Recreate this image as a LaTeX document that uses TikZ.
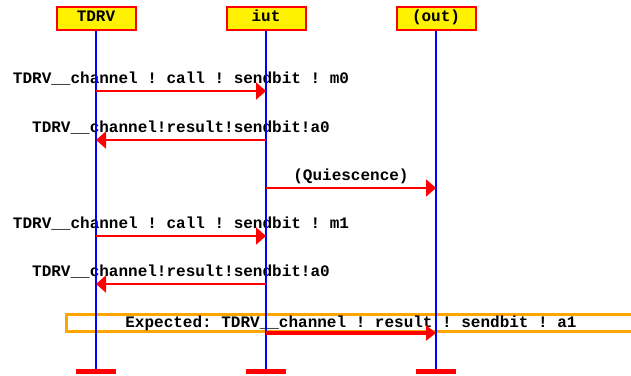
\documentclass[tikz,border=0pt]{standalone}
\usepackage{fontspec}
\setmonofont{Liberation Mono}
\usetikzlibrary{arrows.meta}
\definecolor{expectorange}{RGB}{255,165,0}
\begin{document}
\begin{tikzpicture}[x=1pt,y=-1pt,
  every node/.style={font=\fontsize{16}{16}\selectfont\ttfamily\bfseries},
  actor/.style={draw=red,line width=2pt,fill=yellow,minimum width=79pt,
    minimum height=23pt,inner sep=0pt,text height=10pt,text depth=3.5pt},
  lifeline/.style={blue,line width=2pt},
  endbar/.style={red,line width=5pt},
  msg/.style={red,line width=2pt,-{Triangle[length=10pt,width=17pt]}},
  expmsg/.style={red,line width=4.5pt,-{Triangle[length=10pt,width=15pt]}},
  msglabel/.style={pos=0.5,anchor=base,inner sep=0pt,yshift=7.5pt},
  expframe/.style={draw=expectorange,line width=3pt,minimum width=576pt,
    minimum height=17pt,inner sep=0pt,anchor=west}]
\useasboundingbox (0,0) rectangle (631,375);

% instance heads
\node[actor] (hTDRV) at (96,18.4) {TDRV};
\node[actor] (hiut)  at (266,18.4) {iut};
\node[actor] (hout)  at (436,18.4) {(out)};

% points on the lifelines for every message row
\foreach \n/\y in {m0/91, a0/140, q/188, m1/236, a0b/284, exp/333, end/371.5} {
  \coordinate (TDRV-\n) at (hTDRV.south |- 0,\y);
  \coordinate (iut-\n)  at (hiut.south  |- 0,\y);
  \coordinate (out-\n)  at (hout.south  |- 0,\y);
}

% expected (but missing) event frame
\node[expframe] (expbox) at (64.5,323) {};

% message labels
\path (TDRV-m0) -- node[msglabel] (lm0) {TDRV\_\_channel ! call ! sendbit ! m0} (iut-m0);
\path (TDRV-a0) -- node[msglabel] (la0) {TDRV\_\_channel!result!sendbit!a0} (iut-a0);
\path (iut-q) -- node[msglabel] (lq) {(Quiescence)} (out-q);
\path (TDRV-m1) -- node[msglabel] (lm1) {TDRV\_\_channel ! call ! sendbit ! m1} (iut-m1);
\path (TDRV-a0b) -- node[msglabel] (la0b) {TDRV\_\_channel!result!sendbit!a0} (iut-a0b);
\path (iut-exp) -- node[msglabel,yshift=-1.5pt] (lexp) {Expected: TDRV\_\_channel ! result ! sendbit ! a1} (out-exp);

% lifelines
\draw[lifeline] (hTDRV.south) -- (TDRV-end);
\draw[lifeline] (hiut.south) -- (iut-end);
\draw[lifeline] (hout.south) -- (out-end);

% messages
\draw[msg] (TDRV-m0) -- (iut-m0);
\draw[msg] (iut-a0) -- (TDRV-a0);
\draw[msg] (iut-q) -- (out-q);
\draw[msg] (TDRV-m1) -- (iut-m1);
\draw[msg] (iut-a0b) -- (TDRV-a0b);
\draw[expmsg] (iut-exp) -- (out-exp);

% instance ends
\draw[endbar] ([xshift=-20pt]TDRV-end) -- ([xshift=20pt]TDRV-end);
\draw[endbar] ([xshift=-20pt]iut-end) -- ([xshift=20pt]iut-end);
\draw[endbar] ([xshift=-20pt]out-end) -- ([xshift=20pt]out-end);
\end{tikzpicture}
\end{document}
